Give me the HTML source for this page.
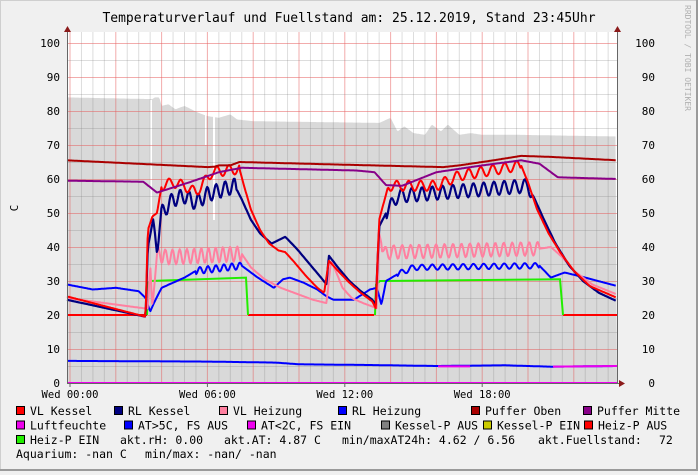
<!DOCTYPE html>
<html><head><meta charset="utf-8"><style>
body{margin:0;background:#f0f0f0;width:698px;height:471px;overflow:hidden;font-family:"DejaVu Sans Mono","Liberation Mono",monospace}
svg text{font-family:"DejaVu Sans Mono","Liberation Mono",monospace;white-space:pre}
</style></head><body>
<svg id="s" width="698" height="471" xmlns="http://www.w3.org/2000/svg">
<rect x="0" y="0" width="698" height="471" fill="#f0f0f0"/>
<rect x="0.5" y="0.5" width="697" height="470" fill="none" stroke="#cfcfcf"/>
<line x1="0" y1="470" x2="698" y2="470" stroke="#9a9a9a" stroke-width="2"/>
<line x1="697" y1="0" x2="697" y2="471" stroke="#9a9a9a" stroke-width="2"/>
<rect x="67" y="32" width="550" height="351" fill="#ffffff"/>
<g id="area"></g>
<g id="grid"></g>
<g id="lines"></g>
<text x="349" y="22" font-size="13" text-anchor="middle">Temperaturverlauf und Fuellstand am: 25.12.2019, Stand 23:45Uhr</text>
<text transform="translate(685,5) rotate(90)" font-size="8" fill="#b0b0b0">RRDTOOL / TOBI OETIKER</text>
<text transform="translate(18,208) rotate(-90)" font-size="11" text-anchor="middle">C</text>
<g id="leg" font-size="11.5"></g>
</svg>
<script>
var NS="http://www.w3.org/2000/svg";
function el(p,t,a){var e=document.createElementNS(NS,t);for(var k in a)e.setAttribute(k,a[k]);p.appendChild(e);return e;}
var X=function(h){return 70+h*22.9}, Y=function(v){return 383-v*3.4};
var g=document.getElementById('grid'),L=document.getElementById('lines'),A=document.getElementById('area');
var ap=[[-0.15,84],[3.6,83.5],[3.7,84],[3.9,84],[4,81.5],[4.3,82],[4.6,80.5],[5,81.5],[5.6,79.5],[6,78.5],[6.5,78],[7,79],[7.3,77.5],[8,77],[13.5,76.5],[14,78],[14.3,74],[14.6,75.5],[15,73.5],[15.5,73],[15.8,76],[16.2,74],[16.5,76],[17,73],[17.5,73.5],[18,73],[19.5,73],[23.9,72.5]];
function interp(pts,h){for(var i=0;i<pts.length-1;i++){if(h>=pts[i][0]&&h<=pts[i+1][0]){var t=(h-pts[i][0])/(pts[i+1][0]-pts[i][0]);return pts[i][1]+t*(pts[i+1][1]-pts[i][1]);}}return pts[pts.length-1][1];}
var d="M67,383";for(var h=-0.13;h<=23.85;h+=0.05){d+=" L"+X(h).toFixed(1)+","+Y(interp(ap,h)).toFixed(1);}d+=" L617,383 Z";
el(A,'path',{d:d,fill:'#d9d9d9'});
el(A,'rect',{x:150,y:100,width:2,height:125,fill:'#fff'});
el(A,'rect',{x:205,y:100,width:1.5,height:45,fill:'#fff'});
el(A,'rect',{x:213,y:100,width:2,height:120,fill:'#fff'});
for(var m=-0.5;m<=24;m+=0.5){var x=X(m);if(x<67||x>617)continue;var red=(Math.abs(m/2-Math.round(m/2))<1e-6);el(g,'line',{x1:x,y1:32,x2:x,y2:383,stroke:red?'rgba(230,90,90,0.5)':'rgba(120,120,120,0.25)','stroke-width':1});}
for(var v=5;v<=100;v+=5){var y=Y(v)+0.5;var red=v%10==0;el(g,'line',{x1:67,y1:y,x2:617,y2:y,stroke:red?'rgba(230,90,90,0.5)':'rgba(120,120,120,0.25)'});}
for(var v=0;v<=100;v+=10){var y=Y(v)+4;el(g,'text',{x:60,y:y,'font-size':'11','text-anchor':'end'}).textContent=v;el(g,'text',{x:655,y:y,'font-size':'11','text-anchor':'end'}).textContent=v;}
[[0,'Wed 00:00'],[6,'Wed 06:00'],[12,'Wed 12:00'],[18,'Wed 18:00']].forEach(function(t){var x=X(t[0]);el(g,'line',{x1:x,y1:383,x2:x,y2:387,stroke:'#666'});el(g,'text',{x:x,y:398,'font-size':'10.5','text-anchor':'middle'}).textContent=t[1];});
function series(pts,col,w,osc){var d="";for(var h=-0.13;h<=23.85;h+=0.04){var v=interp(pts,h);if(osc)osc.forEach(function(o){if(h>=o[0]&&h<=o[1])v+=o[2]*Math.sin(h*o[3]);});d+=(d?" L":"M")+X(h).toFixed(1)+","+Y(v).toFixed(1);}el(L,'path',{d:d,fill:'none',stroke:col,'stroke-width':w||2,'stroke-linejoin':'round'});}
el(L,'path',{d:"M67,"+Y(20)+" L147,"+Y(20)+" M248,"+Y(20)+" L374,"+Y(20)+" M563,"+Y(20)+" L617,"+Y(20),stroke:'#ff0000','stroke-width':2,fill:'none'});
el(L,'path',{d:"M147,"+Y(20)+" L148,"+Y(29.5)+" L150,"+Y(30)+" L246,"+Y(31)+" L248,"+Y(20),stroke:'#22ee00','stroke-width':2,fill:'none'});
el(L,'path',{d:"M375,"+Y(20)+" L376,"+Y(29)+" L380,"+Y(30)+" L560,"+Y(30.5)+" L563,"+Y(20),stroke:'#22ee00','stroke-width':2,fill:'none'});
series([[-0.15,6.5],[6,6.3],[9,6],[10,5.5],[13,5.3],[16,5],[19,5.2],[21,4.8],[23.9,5]],'#0000ff',2);
el(L,'path',{d:"M438,"+Y(4.9)+" L470,"+Y(4.9)+" M553,"+Y(4.8)+" L617,"+Y(5),stroke:'#ee00ee','stroke-width':2,fill:'none'});
el(L,'line',{x1:67,y1:383,x2:617,y2:383,stroke:'#ee00ee','stroke-width':2});
series([[-0.15,29],[1,27.5],[2,28],[3,27],[3.3,25],[3.5,21],[3.7,24],[4,28],[5,31],[5.5,33],[7.5,34.5],[8.2,31],[8.9,28],[9.3,30.5],[9.6,31],[10.2,29.5],[10.8,27.5],[11.2,25.5],[11.5,24.5],[12.4,24.5],[13.1,27.5],[13.4,28],[13.6,23],[13.8,30],[14.3,32],[15,34],[20.5,34.5],[21,31],[21.6,32.5],[22.5,31],[23.9,28.5]],'#0000ff',2,[[5.5,7.5,1,18],[14.3,20.5,0.8,14]]);
series([[-0.15,25],[3.2,22],[3.4,22],[3.5,35],[3.6,22],[3.8,38],[4.2,37],[6,37.5],[7.5,38],[7.9,34],[8.5,30.5],[9.2,28],[10,26],[10.6,24.5],[11.2,23.5],[11.4,36],[11.6,33],[11.9,28],[12.3,25],[12.8,23.5],[13.2,22.5],[13.4,22],[13.5,44],[13.7,38],[14,38.5],[20.5,39.5],[21,40],[21.5,37],[22,33],[22.8,29],[23.9,26]],'#ff80a0',2,[[3.8,7.5,2.2,20],[13.6,20.5,2,17]]);
series([[-0.15,24.5],[3.3,19.5],[3.4,40],[3.6,47],[3.8,40],[4,50],[4.5,54],[5,55],[5.5,53],[6,55.5],[7.2,58],[7.5,54],[7.9,48],[8.3,44],[8.8,41],[9.4,43],[9.9,39.5],[10.4,35.5],[10.9,31.5],[11.2,29],[11.3,37.5],[11.7,34],[12.2,30],[12.7,27],[13.2,24.5],[13.35,23],[13.5,46],[13.8,50],[14.3,55],[20,58],[20.3,54],[20.7,48],[21.2,41],[21.8,34.5],[22.4,30],[23.1,26.5],[23.9,24]],'#000080',2.2,[[3.6,7.3,2.2,16],[13.8,20.2,2,14]]);
series([[-0.15,25.5],[3.3,19.5],[3.4,45],[3.6,49],[3.8,50],[4,58],[4.5,59],[5,58],[5.5,56],[6.2,62],[7.4,63],[7.6,58],[7.9,51],[8.3,45],[8.7,41],[9.1,39],[9.4,38.5],[9.8,35.5],[10.3,31.5],[10.8,28],[11.1,26.5],[11.3,36],[11.7,33],[12.2,29.5],[12.7,26.5],[13.2,24],[13.35,22],[13.5,48],[13.9,58],[14.5,58],[16,58],[17,61],[19.7,64],[20,59],[20.4,51],[20.9,44],[21.4,38.5],[22,33],[22.7,28.5],[23.9,25]],'#ff0000',2,[[4,7.4,1.5,12],[13.9,19.7,1.5,12]]);
series([[-0.15,59.5],[3.2,59.2],[3.8,56],[5.2,59],[6.5,62],[7.5,63.3],[12.5,62.5],[13.3,62],[13.8,58.2],[14.5,58],[16,62],[18,64],[19.7,65.5],[20.5,64.5],[21.3,60.5],[23.9,60]],'#880088',2);
series([[-0.15,65.5],[6,63.5],[6.3,63.6],[6.5,64],[7,64],[7.4,65],[12,64.2],[16.3,63.5],[17,64],[18.5,65.5],[19.7,66.8],[21,66.5],[23.9,65.5]],'#aa0000',2);
el(L,'line',{x1:67.5,y1:28,x2:67.5,y2:384,stroke:'#666'});
el(L,'line',{x1:617.5,y1:28,x2:617.5,y2:384,stroke:'#666'});
el(L,'line',{x1:67,y1:383.5,x2:621,y2:383.5,stroke:'#666'});
el(L,'path',{d:"M64,32 L67.5,26 L71,32 Z",fill:'#8b1a1a'});
el(L,'path',{d:"M614,32 L617.5,26 L621,32 Z",fill:'#8b1a1a'});
el(L,'path',{d:"M619,380 L625,383.5 L619,387 Z",fill:'#8b1a1a'});
var lg=document.getElementById('leg');
var rows=[[[16,'#ff0000','VL Kessel'],[114,'#000080','RL Kessel'],[219,'#ff80a0','VL Heizung'],[338,'#0000ff','RL Heizung'],[471,'#aa0000','Puffer Oben'],[583,'#880088','Puffer Mitte']],
[[16,'#ee00ee','Luftfeuchte'],[124,'#0000ff','AT>5C, FS AUS'],[247,'#ee00ee','AT<2C, FS EIN'],[381,'#808080','Kessel-P AUS'],[483,'#cccc00','Kessel-P EIN'],[584,'#ff0000','Heiz-P AUS']],
[[16,'#22ee00','Heiz-P EIN']]];
rows.forEach(function(r,i){var y=415+i*14.5;r.forEach(function(it){el(lg,'rect',{x:it[0]+0.5,y:y-8.5,width:8,height:8,fill:it[1],stroke:'#000'});el(lg,'text',{x:it[0]+14,y:y}).textContent=it[2];});});
[[120,"akt.rH: 0.00"],[224,"akt.AT: 4.87 C"],[342,"min/maxAT24h: 4.62 / 6.56"],[538,"akt.Fuellstand:"],[659,"72"]].forEach(function(t){el(lg,'text',{x:t[0],y:444}).textContent=t[1];});
el(lg,'text',{x:16,y:458}).textContent="Aquarium: -nan C";
el(lg,'text',{x:145,y:458}).textContent="min/max: -nan/ -nan";
</script>
</body></html>
